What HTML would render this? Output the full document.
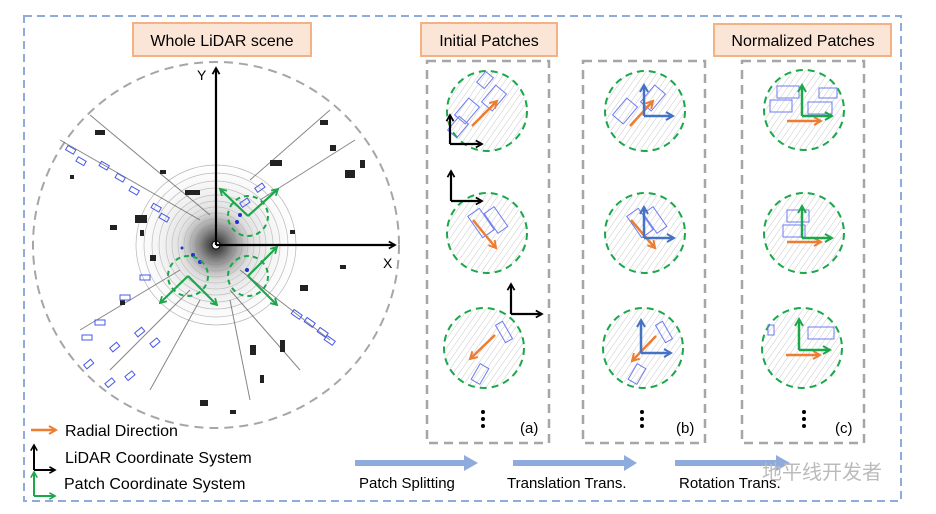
<!DOCTYPE html>
<html><head><meta charset="utf-8"><style>
body{margin:0;background:#fff}
svg{display:block;font-family:"Liberation Sans","DejaVu Sans",sans-serif}
</style></head><body>
<svg width="936" height="514" viewBox="0 0 936 514" xmlns="http://www.w3.org/2000/svg">
<defs>
<marker id="mk" viewBox="0 0 10 10" refX="8" refY="5" markerWidth="4" markerHeight="4" orient="auto"><path d="M1,1 L8,5 L1,9" fill="none" stroke="#000" stroke-width="2"/></marker>
<marker id="mg" viewBox="0 0 10 10" refX="8" refY="5" markerWidth="4" markerHeight="4" orient="auto"><path d="M1,1 L8,5 L1,9" fill="none" stroke="#1aa84a" stroke-width="2"/></marker>
<marker id="mo" viewBox="0 0 10 10" refX="8" refY="5" markerWidth="4" markerHeight="4" orient="auto"><path d="M1,1 L8,5 L1,9" fill="none" stroke="#ed7d31" stroke-width="2"/></marker>
<marker id="mb" viewBox="0 0 10 10" refX="8" refY="5" markerWidth="4" markerHeight="4" orient="auto"><path d="M1,1 L8,5 L1,9" fill="none" stroke="#4472c4" stroke-width="2"/></marker>
<radialGradient id="rg"><stop offset="0" stop-color="#222"/><stop offset="0.15" stop-color="#777"/><stop offset="0.4" stop-color="#ccc" stop-opacity="0.6"/><stop offset="1" stop-color="#fff" stop-opacity="0"/></radialGradient>
<pattern id="hatch" width="5" height="5" patternUnits="userSpaceOnUse" patternTransform="rotate(35)"><line x1="0" y1="0" x2="0" y2="5" stroke="#bbb" stroke-width="0.8"/></pattern>
</defs>

<rect x="24" y="16" width="877" height="485" fill="none" stroke="#8faadc" stroke-width="2" stroke-dasharray="8,5"/>

<!-- big scene -->
<circle cx="216" cy="245" r="183" fill="none" stroke="#a6a6a6" stroke-width="2" stroke-dasharray="9,6"/>
<g fill="none" stroke="#999" stroke-width="0.7" opacity="0.8">
<circle cx="216" cy="245" r="20"/><circle cx="216" cy="245" r="26"/><circle cx="216" cy="245" r="32"/><circle cx="216" cy="245" r="38"/><circle cx="216" cy="245" r="44"/><circle cx="216" cy="245" r="50"/><circle cx="216" cy="245" r="57"/><circle cx="216" cy="245" r="64"/><circle cx="216" cy="245" r="72"/><circle cx="216" cy="245" r="80"/>
</g>
<circle cx="216" cy="245" r="90" fill="url(#rg)"/>
<g stroke="#555" stroke-width="1" opacity="0.7">
<path d="M60,140 L200,220 M90,115 L210,215 M250,180 L330,110 M260,200 L355,140 M240,270 L330,340 M230,290 L300,370 M180,270 L80,330 M190,290 L110,370 M230,300 L250,400 M200,300 L150,390"/>
</g>
<g fill="#222">
<rect x="95" y="130" width="10" height="5"/><rect x="270" y="160" width="12" height="6"/><rect x="320" y="120" width="8" height="5"/><rect x="345" y="170" width="10" height="8"/><rect x="135" y="215" width="12" height="8"/><rect x="150" y="255" width="6" height="6"/><rect x="250" y="345" width="6" height="10"/><rect x="280" y="340" width="5" height="12"/><rect x="185" y="190" width="15" height="5"/><rect x="300" y="285" width="8" height="6"/><rect x="120" y="300" width="5" height="5"/><rect x="200" y="400" width="8" height="6"/>
<rect x="160" y="170" width="6" height="4"/><rect x="330" y="145" width="6" height="6"/><rect x="360" y="160" width="5" height="8"/><rect x="110" y="225" width="7" height="5"/><rect x="140" y="230" width="4" height="6"/><rect x="290" y="230" width="5" height="4"/><rect x="340" y="265" width="6" height="4"/><rect x="260" y="375" width="4" height="8"/><rect x="230" y="410" width="6" height="4"/><rect x="70" y="175" width="4" height="4"/>
</g>
<g fill="none" stroke="#4a5ae8" stroke-width="1">
<rect x="66" y="147" width="9" height="5" transform="rotate(30 70 150)"/><rect x="77" y="158" width="9" height="5" transform="rotate(30 80 160)"/><rect x="100" y="163" width="9" height="5" transform="rotate(30 104 165)"/><rect x="116" y="175" width="9" height="5" transform="rotate(30 120 177)"/><rect x="130" y="188" width="9" height="5" transform="rotate(30 134 190)"/><rect x="152" y="205" width="9" height="5" transform="rotate(30 156 207)"/><rect x="160" y="215" width="9" height="5" transform="rotate(30 164 217)"/>
<rect x="140" y="275" width="10" height="5"/><rect x="120" y="295" width="10" height="5"/><rect x="95" y="320" width="10" height="5"/><rect x="82" y="335" width="10" height="5"/><rect x="84" y="362" width="9" height="5" transform="rotate(-40 88 364)"/><rect x="105" y="380" width="9" height="5" transform="rotate(-40 110 382)"/><rect x="125" y="373" width="9" height="5" transform="rotate(-40 130 375)"/><rect x="110" y="345" width="9" height="5" transform="rotate(-40 114 347)"/><rect x="135" y="330" width="9" height="5" transform="rotate(-40 139 332)"/><rect x="150" y="340" width="9" height="5" transform="rotate(-40 155 342)"/>
<rect x="292" y="312" width="10" height="5" transform="rotate(35 297 314)"/><rect x="305" y="320" width="10" height="5" transform="rotate(35 310 322)"/><rect x="318" y="330" width="10" height="5" transform="rotate(35 323 332)"/><rect x="325" y="338" width="10" height="5" transform="rotate(35 330 340)"/>
<rect x="255" y="185" width="9" height="5" transform="rotate(-35 260 187)"/><rect x="240" y="200" width="9" height="5" transform="rotate(-35 245 202)"/>
</g>
<g fill="#2233cc"><circle cx="240" cy="215" r="2"/><circle cx="237" cy="222" r="2"/><circle cx="193" cy="255" r="2"/><circle cx="200" cy="262" r="2"/><circle cx="247" cy="270" r="2"/><circle cx="182" cy="248" r="1.5"/></g>
<g fill="none" stroke="#1aa84a" stroke-width="2" stroke-dasharray="5,4">
<circle cx="248" cy="216" r="20"/><circle cx="188" cy="276" r="20"/><circle cx="248" cy="276" r="20"/>
</g>
<g fill="none" stroke="#1aa84a" stroke-width="2.2">
<path d="M248,216 L220,189" marker-end="url(#mg)"/><path d="M248,216 L278,189" marker-end="url(#mg)"/>
<path d="M188,276 L160,303" marker-end="url(#mg)"/><path d="M188,276 L217,305" marker-end="url(#mg)"/>
<path d="M248,276 L277,247" marker-end="url(#mg)"/><path d="M248,276 L277,305" marker-end="url(#mg)"/>
</g>
<circle cx="216" cy="245" r="4" fill="#fff" stroke="#000"/>
<g fill="none" stroke="#000" stroke-width="2.2">
<path d="M216,245 L216,68" marker-end="url(#mk)"/><path d="M216,245 L395,245" marker-end="url(#mk)"/>
</g>
<text x="197" y="80" font-size="14">Y</text><text x="383" y="268" font-size="14">X</text>

<!-- titles -->
<g fill="#fbe5d6" stroke="#f4b183" stroke-width="2">
<rect x="133" y="23" width="178" height="33"/><rect x="421" y="23" width="136" height="33"/><rect x="714" y="24" width="177" height="32"/>
</g>
<g font-size="16" fill="#000" text-anchor="middle">
<text x="222" y="46">Whole LiDAR scene</text><text x="489" y="46">Initial Patches</text><text x="803" y="46">Normalized Patches</text>
</g>

<!-- columns -->
<g fill="none" stroke="#a6a6a6" stroke-width="2.5" stroke-dasharray="9,6">
<rect x="427" y="61" width="122" height="382"/><rect x="583" y="61" width="122" height="382"/><rect x="742" y="61" width="122" height="382"/>
</g>
<g fill="url(#hatch)" stroke="#1aa84a" stroke-width="2" stroke-dasharray="7,5">
<circle cx="487" cy="111" r="40"/><circle cx="487" cy="233" r="40"/><circle cx="484" cy="348" r="40"/>
<circle cx="645" cy="111" r="40"/><circle cx="645" cy="233" r="40"/><circle cx="643" cy="348" r="40"/>
<circle cx="804" cy="110" r="40"/><circle cx="804" cy="233" r="40"/><circle cx="802" cy="348" r="40"/>
</g>
<g fill="none" stroke="#6d7bf0" stroke-width="1">
<rect x="460" y="100" width="14" height="22" transform="rotate(40 467 111)"/><rect x="452" y="118" width="12" height="18" transform="rotate(40 458 127)"/><rect x="487" y="87" width="14" height="22" transform="rotate(40 494 98)"/><rect x="480" y="73" width="10" height="14" transform="rotate(40 485 80)"/>
<rect x="474" y="210" width="14" height="26" transform="rotate(-35 481 223)"/><rect x="490" y="208" width="12" height="24" transform="rotate(-35 496 220)"/>
<rect x="475" y="365" width="10" height="18" transform="rotate(30 480 374)"/><rect x="500" y="322" width="8" height="20" transform="rotate(-30 504 332)"/>
<rect x="618" y="100" width="14" height="22" transform="rotate(40 625 111)"/><rect x="646" y="87" width="14" height="22" transform="rotate(40 653 98)"/>
<rect x="633" y="210" width="14" height="26" transform="rotate(-35 640 223)"/><rect x="649" y="208" width="12" height="24" transform="rotate(-35 655 220)"/>
<rect x="632" y="365" width="10" height="18" transform="rotate(30 637 374)"/><rect x="660" y="322" width="8" height="20" transform="rotate(-30 664 332)"/>
<rect x="777" y="86" width="22" height="12"/><rect x="770" y="100" width="22" height="12"/><rect x="808" y="102" width="24" height="12"/><rect x="819" y="88" width="18" height="10"/>
<rect x="787" y="210" width="22" height="12"/><rect x="783" y="225" width="22" height="12"/>
<rect x="808" y="327" width="26" height="12"/><rect x="768" y="325" width="6" height="10"/>
</g>
<g fill="none" stroke="#ed7d31" stroke-width="2.5">
<path d="M472,126 L497,101" marker-end="url(#mo)"/><path d="M473,220 L496,248" marker-end="url(#mo)"/><path d="M495,335 L470,359" marker-end="url(#mo)"/>
<path d="M630,126 L653,101" marker-end="url(#mo)"/><path d="M631,220 L655,248" marker-end="url(#mo)"/><path d="M656,336 L632,361" marker-end="url(#mo)"/>
<path d="M787,121 L821,121" marker-end="url(#mo)"/><path d="M787,242 L821,242" marker-end="url(#mo)"/><path d="M786,355 L820,355" marker-end="url(#mo)"/>
</g>
<g fill="none" stroke="#4472c4" stroke-width="2.5">
<path d="M644,116 L644,85" marker-end="url(#mb)"/><path d="M644,116 L673,116" marker-end="url(#mb)"/>
<path d="M644,238 L644,207" marker-end="url(#mb)"/><path d="M644,238 L674,238" marker-end="url(#mb)"/>
<path d="M641,353 L641,320" marker-end="url(#mb)"/><path d="M641,353 L671,353" marker-end="url(#mb)"/>
</g>
<g fill="none" stroke="#1aa84a" stroke-width="2.5">
<path d="M802,116 L802,85" marker-end="url(#mg)"/><path d="M802,116 L832,116" marker-end="url(#mg)"/>
<path d="M802,238 L802,206" marker-end="url(#mg)"/><path d="M802,238 L832,238" marker-end="url(#mg)"/>
<path d="M799,350 L799,319" marker-end="url(#mg)"/><path d="M799,350 L830,350" marker-end="url(#mg)"/>
</g>
<g fill="none" stroke="#000" stroke-width="2.2">
<path d="M450,144 L450,115" marker-end="url(#mk)"/><path d="M450,144 L482,144" marker-end="url(#mk)"/>
<path d="M451,201 L451,171" marker-end="url(#mk)"/><path d="M451,201 L482,201" marker-end="url(#mk)"/>
<path d="M511,314 L511,284" marker-end="url(#mk)"/><path d="M511,314 L542,314" marker-end="url(#mk)"/>
</g>
<g fill="#000"><circle cx="483" cy="412" r="2"/><circle cx="483" cy="419" r="2"/><circle cx="483" cy="426" r="2"/>
<circle cx="642" cy="412" r="2"/><circle cx="642" cy="419" r="2"/><circle cx="642" cy="426" r="2"/>
<circle cx="804" cy="412" r="2"/><circle cx="804" cy="419" r="2"/><circle cx="804" cy="426" r="2"/></g>
<g font-size="15"><text x="520" y="433">(a)</text><text x="676" y="433">(b)</text><text x="835" y="433">(c)</text></g>

<!-- bottom process arrows -->
<g fill="#8faadc">
<rect x="355" y="460" width="110" height="6"/><path d="M464,455 L478,463 L464,471Z"/>
<rect x="513" y="460" width="112" height="6"/><path d="M624,455 L637,463 L624,471Z"/>
<rect x="675" y="460" width="102" height="6"/><path d="M776,455 L790,463 L776,471Z"/>
</g>
<g font-size="15"><text x="359" y="488">Patch Splitting</text><text x="507" y="488">Translation Trans.</text><text x="679" y="488">Rotation Trans.</text></g>
<text x="762" y="479" font-size="20" fill="#bbb" font-family="'Noto Sans CJK SC',sans-serif">地平线开发者</text>

<!-- legend -->
<path d="M31,430 L56,430" stroke="#ed7d31" stroke-width="2.5" fill="none" marker-end="url(#mo)"/>
<path d="M34,470 L34,445" stroke="#000" stroke-width="2" marker-end="url(#mk)"/><path d="M34,470 L55,470" stroke="#000" stroke-width="2" marker-end="url(#mk)"/>
<path d="M34,496 L34,472" stroke="#1aa84a" stroke-width="2" marker-end="url(#mg)"/><path d="M34,496 L55,496" stroke="#1aa84a" stroke-width="2" marker-end="url(#mg)"/>
<g font-size="16"><text x="65" y="436">Radial Direction</text><text x="65" y="463">LiDAR Coordinate System</text><text x="64" y="489">Patch Coordinate System</text></g>
</svg>
</body></html>
